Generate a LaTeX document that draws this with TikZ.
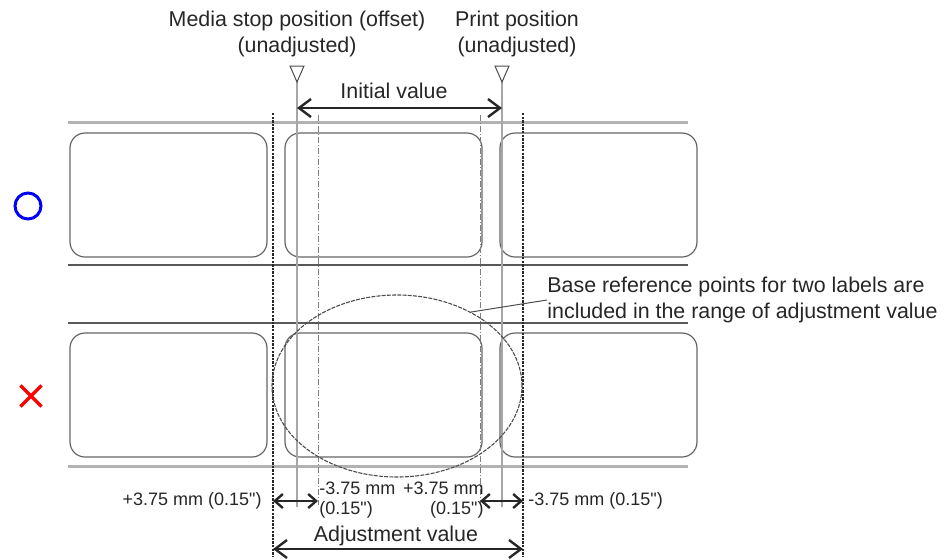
\documentclass[tikz,border=0pt]{standalone}
\usepackage{fontspec}
\setmainfont{Liberation Sans}[Ligatures=TeXOff]
\usetikzlibrary{arrows.meta, positioning, shapes.geometric, shapes.misc}

\begin{document}
\begin{tikzpicture}[x=0.5pt, y=-0.5pt,
    font=\fontsize{10.7}{12.6}\selectfont,
    lbl/.style={draw=black!60, line width=0.6pt, rounded corners=7.5pt,
                minimum width=98.5pt, minimum height=62pt, inner sep=0pt},
    stripfat/.style={line width=1.5pt, black!30},
    stripthin/.style={line width=0.7pt, black!65},
    cutline/.style={line width=0.8pt, black!85, dash pattern=on 1.2pt off 0.6pt},
    posline/.style={line width=1.1pt, black!35},
    limline/.style={line width=0.4pt, black!50, dash pattern=on 3pt off 1pt on 0.5pt off 1pt},
    dimarrow/.style={line width=1.2pt, black!85, <->},
    txt/.style={inner sep=0pt, text=black!85},
    small/.style={txt, font=\fontsize{9}{10}\selectfont},
    tri/.style={draw=black!70, line width=0.5pt, fill=white},
    >={Straight Barb[length=6pt, width=9pt]}]
  \useasboundingbox (0,0) rectangle (950,559);

  % tape strips
  \draw[stripfat]  (68,122) -- (688,122);
  \draw[stripthin] (68,265) -- (688,265);
  \draw[stripthin] (68,323) -- (688,323);
  \draw[stripfat]  (68,466) -- (688,466);

  % labels
  \node[lbl] (a1) at (168.5,195) {};
  \node[lbl] (b1) at (383.5,195) {};
  \node[lbl] (c1) at (598.5,195) {};
  \node[lbl] (a2) at (168.5,395) {};
  \node[lbl] (b2) at (383.5,395) {};
  \node[lbl] (c2) at (598.5,395) {};

  % good / bad marks
  \node[circle, draw=blue, line width=1.5pt, minimum size=13pt, inner sep=0pt] (ok) at (28,206) {};
  \node[cross out, draw=red, line width=1.6pt, minimum size=9pt, inner sep=0pt] (ng) at (31,396) {};

  % reference lines
  \coordinate (lcT) at (273,113);  \coordinate (lcB) at (273,557);
  \coordinate (rcT) at (523,113);  \coordinate (rcB) at (523,557);
  \coordinate (msT) at (297,82);   \coordinate (msB) at (297,507);
  \coordinate (ppT) at (502,82);   \coordinate (ppB) at (502,507);
  \coordinate (llT) at (318,115);  \coordinate (llB) at (318,505);
  \coordinate (rlT) at (480,115);  \coordinate (rlB) at (480,505);
  \draw[limline] (llT) -- (llB);
  \draw[limline] (rlT) -- (rlB);
  \draw[posline] (msT) -- (msB);
  \draw[posline] (ppT) -- (ppB);
  \draw[cutline] (lcT) -- (lcB);
  \draw[cutline] (rcT) -- (rcB);

  % markers
  \draw[tri] (msT) -- ++(-7,-16) -- ++(14,0) -- cycle;
  \draw[tri] (ppT) -- ++(-7,-16) -- ++(14,0) -- cycle;
  \node[txt, anchor=south, align=center] (mstxt) at (297,57)
        {Media stop position (offset)\\(unadjusted)};
  \node[txt, anchor=south, align=center] (pptxt) at (517,57)
        {Print position\\(unadjusted)};

  % initial value
  \coordinate (iv1) at (297,108);
  \coordinate (iv2) at (502,108);
  \draw[dimarrow] (iv1) -- (iv2);
  \node[txt, anchor=base] (ivtxt) at (394,98) {Initial value};

  % adjustment range
  \node[draw=black!70, line width=0.55pt, dash pattern=on 2pt off 0.6pt, ellipse,
        minimum width=125pt, minimum height=91pt, inner sep=0pt] (rng) at (397,386) {};
  \node[txt, anchor=west, align=left] (note) at (547,300)
        {Base reference points for two labels are\\included in the range of adjustment value};
  \draw[black!70, line width=0.5pt] (rng.45) -- (note.west);

  \coordinate (dl1) at (273,501);  \coordinate (dl2) at (318,501);
  \coordinate (dr1) at (480,501);  \coordinate (dr2) at (523,501);
  \draw[dimarrow, >={Straight Barb[length=4pt, width=7pt]}] (dl1) -- (dl2);
  \draw[dimarrow, >={Straight Barb[length=4pt, width=7pt]}] (dr1) -- (dr2);
  \node[small, anchor=base east] (lp) at (262,505) {+3.75 mm (0.15")};
  \node[small, anchor=north west, align=left] (lm) at (319,482) {-3.75 mm\\(0.15")};
  \node[small, anchor=north east, align=right] (rp) at (484,482) {+3.75 mm\\(0.15")};
  \node[small, anchor=base west] (rm) at (528,505) {-3.75 mm (0.15")};

  \coordinate (av1) at (273,549);
  \coordinate (av2) at (523,549);
  \draw[dimarrow] (av1) -- (av2);
  \node[txt, anchor=base] (avtxt) at (396,541) {Adjustment value};
\end{tikzpicture}
\end{document}
